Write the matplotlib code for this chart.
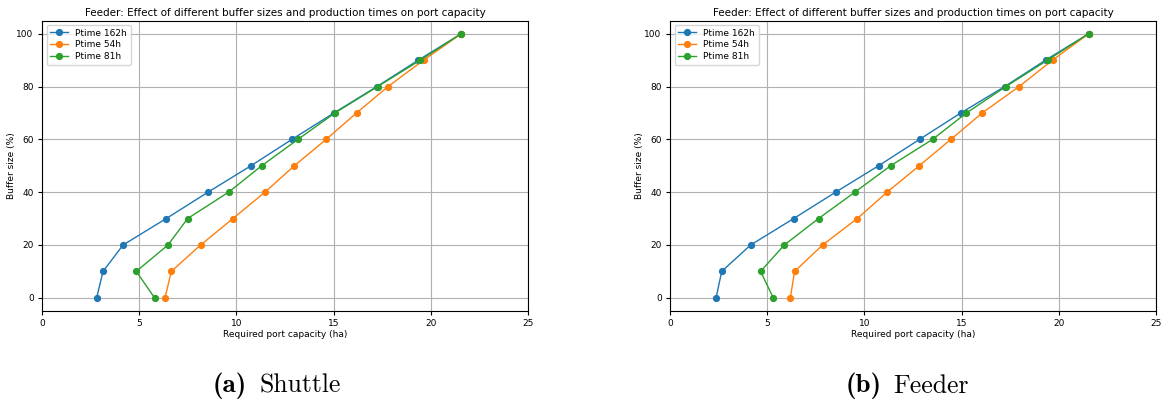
import matplotlib
matplotlib.use("Agg")
import matplotlib.pyplot as plt

buffer_sizes = [0, 10, 20, 30, 40, 50, 60, 70, 80, 90, 100]

# Shuttle (a)
shuttle_162 = [2.81, 3.14, 4.17, 6.39, 8.54, 10.75, 12.86, 15.02, 17.23, 19.36, 21.57]
shuttle_54 = [6.33, 6.65, 8.16, 9.82, 11.47, 12.98, 14.62, 16.18, 17.80, 19.63, 21.57]
shuttle_81 = [5.79, 4.85, 6.48, 7.49, 9.60, 11.30, 13.17, 15.07, 17.27, 19.46, 21.57]

# Feeder (b)
feeder_162 = [2.37, 2.66, 4.15, 6.36, 8.52, 10.73, 12.84, 14.96, 17.22, 19.32, 21.54]
feeder_54 = [6.19, 6.41, 7.85, 9.63, 11.17, 12.82, 14.45, 16.06, 17.96, 19.68, 21.54]
feeder_81 = [5.31, 4.66, 5.88, 7.64, 9.51, 11.35, 13.51, 15.25, 17.28, 19.42, 21.54]

series_labels = ["Ptime 162h", "Ptime 54h", "Ptime 81h"]
title = "Feeder: Effect of different buffer sizes and production times on port capacity"
captions = [("(a)", "Shuttle"), ("(b)", "Feeder")]

fig = plt.figure(figsize=(11.65, 4.04), dpi=100)
W, H = 1165, 404
ax_positions = [(42, 20.5, 528, 311), (670, 20.5, 1156, 311)]
datasets = [(shuttle_162, shuttle_54, shuttle_81), (feeder_162, feeder_54, feeder_81)]
colors = ["#1f77b4", "#ff7f0e", "#2ca02c"]

fs = 6.5
for (x0, y0, x1, y1), data in zip(ax_positions, datasets):
    ax = fig.add_axes([x0 / W, 1 - y1 / H, (x1 - x0) / W, (y1 - y0) / H])
    for vals, lab, c in zip(data, series_labels, colors):
        ax.plot(vals, buffer_sizes, marker="o", color=c, label=lab, markersize=4.2, linewidth=1.0)
    ax.set_xlim(0, 25)
    ax.set_ylim(-5, 105)
    ax.set_xticks([0, 5, 10, 15, 20, 25])
    ax.set_yticks([0, 20, 40, 60, 80, 100])
    ax.grid(True, color="#b0b0b0", linewidth=0.8)
    ax.tick_params(labelsize=fs, length=3, pad=3)
    ax.set_xlabel("Required port capacity (ha)", fontsize=fs, labelpad=1)
    ax.set_ylabel("Buffer size (%)", fontsize=fs, labelpad=0)
    ax.set_title(title, fontsize=7.5, pad=3)
    ax.legend(loc="upper left", fontsize=fs, handlelength=2, borderpad=0.4, labelspacing=0.3)

# captions
for (tag, word), (xr, xl) in zip(captions, [(246.7, 259.3), (881.7, 893.3)]):
    fig.text(xr / W, 1 - 386 / H, tag, fontsize=19.5, family="cmb10", ha="right", va="center")
    fig.text(xl / W, 1 - 386 / H, word, fontsize=18.5, family="cmr10", ha="left", va="center")

fig.savefig("out.png", dpi=100)
